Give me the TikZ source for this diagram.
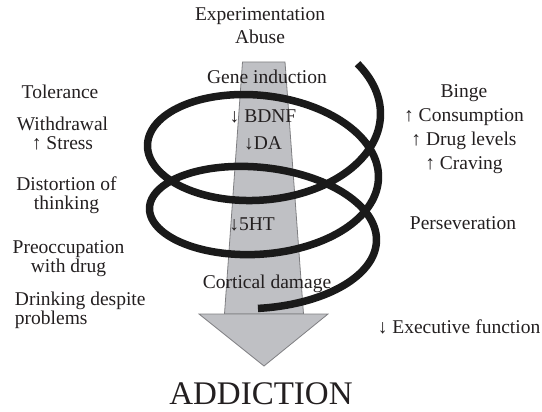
\documentclass[tikz,border=0pt]{standalone}
\usepackage{fontspec}
\setmainfont{Liberation Serif}
\usepackage{xcolor}
\usepackage{tikz}
\usetikzlibrary{positioning,calc}
\definecolor{adShaft}{HTML}{BFC0C4}
\definecolor{adEdge}{HTML}{7F7F82}
\definecolor{adCoil}{HTML}{1A1A1A}
\definecolor{adText}{HTML}{231F20}

\begin{document}
\begin{tikzpicture}[
  x=1pt, y=-1pt,
  every node/.style={inner sep=0pt, outer sep=0pt, text=adText},
  lbl/.style={font=\fontsize{19.5}{23}\selectfont, align=center, anchor=north},
  lblleft/.style={lbl, align=left, anchor=north west},
  big/.style={font=\fontsize{33}{36}\selectfont, anchor=north},
  shaft/.style={fill=adShaft, draw=adEdge, line width=0.8pt},
  coil/.style={draw=adCoil, line width=7.5pt, line cap=butt}
]
\useasboundingbox (0,0) rectangle (542,412);

% ---- big arrow ------------------------------------------------------------
\filldraw[shaft] (242.5,62) -- (285,62) -- (303.5,314) -- (224.5,314) -- cycle;
\filldraw[shaft] (199,314) -- (328,314) -- (264,366) -- cycle;

% ---- coil -----------------------------------------------------------------
\draw[coil] plot[domain=-0.64:14.19, samples=320, smooth, variable=\t]
  ({263.5 + (117 - \t/pi)*cos(\t r)}, {114 + (72.5 - 1.432*\t)*sin(\t r) + 10.03*\t});

% ---- centre column --------------------------------------------------------
\node[lbl] (onset)  at (260,8)   {Experimentation\\Abuse};
\node[lbl] (gene)   at (267,70)  {Gene induction};
\node[lbl] (bdnf)   at (263,110) {↓ BDNF\\[4pt]↓DA};
\node[lbl] (sero)   at (252,218) {↓5HT};
\node[lbl] (cortex) at (267,275) {Cortical damage};
\node[big] (addict) at (261,383) {ADDICTION};

% ---- left column ----------------------------------------------------------
\node[lbl] (toler)   at (60,85)    {Tolerance};
\node[lbl] (withd)   at (62.5,117) {Withdrawal\\[-4pt]↑ Stress};
\node[lbl] (distort) at (66.5,177) {Distortion of\\[-4pt]thinking};
\node[lbl] (preocc)  at (68.5,241) {Preoccupation\\[-4pt]with drug};
\node[lblleft] (drink) at (15,292) {Drinking despite\\[-4pt]problems};

% ---- right column ---------------------------------------------------------
\node[lbl] (binge)  at (464,85)  {Binge\\[1pt]↑ Consumption\\[1pt]↑ Drug levels\\[1pt]↑ Craving};
\node[lbl] (persev) at (463,217) {Perseveration};
\node[lbl] (exec)   at (459,320) {↓ Executive function};

\end{tikzpicture}
\end{document}
